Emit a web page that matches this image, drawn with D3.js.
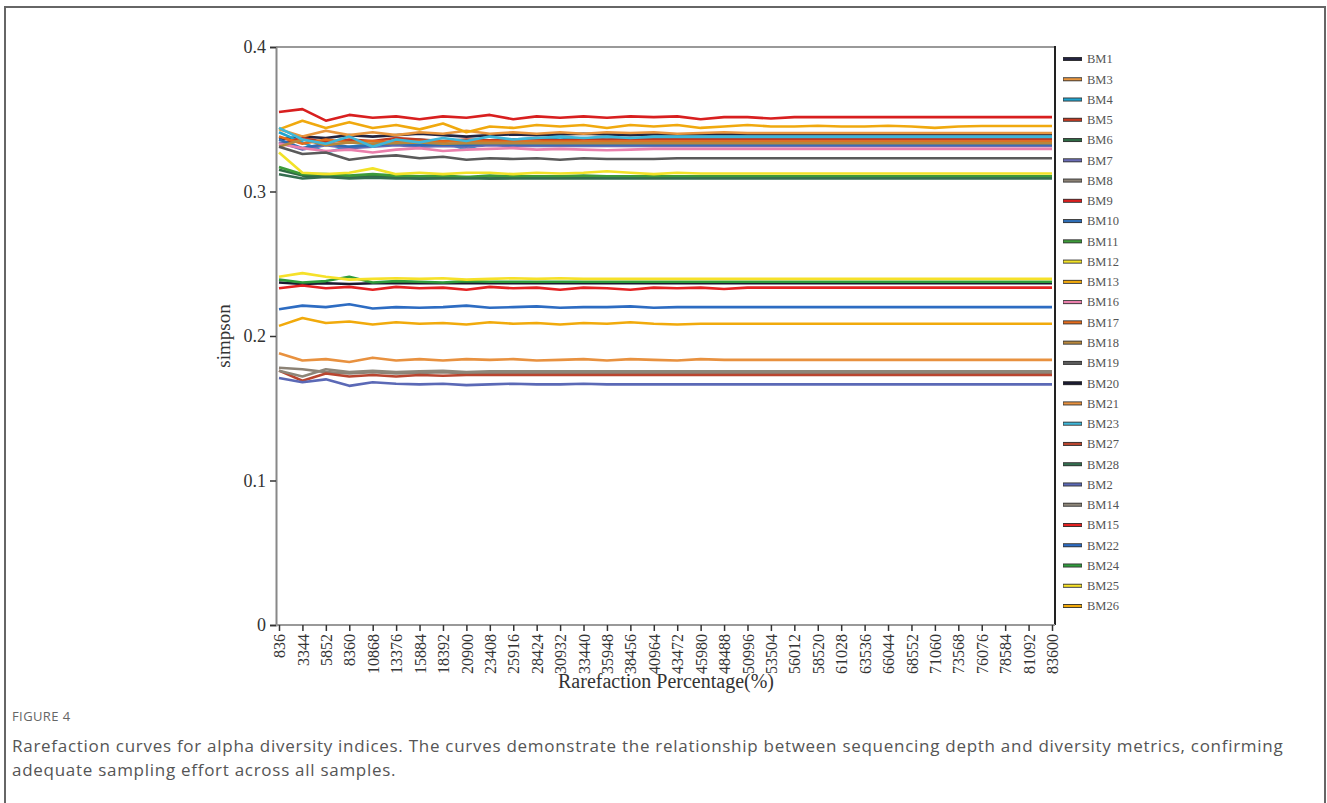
<!DOCTYPE html>
<html>
<head>
<meta charset="utf-8">
<script src="https://cdn.jsdelivr.net/npm/d3@7"></script>
<style>
  html, body { margin: 0; padding: 0; background: #fff; }
  svg { display: block; }
</style>
</head>
<body>
<svg id="chart" width="1327" height="803"></svg>
<script>
'use strict';

// x tick labels (rarefaction depth), one data point per tick
const depths = [836, 3344, 5852, 8360, 10868, 13376, 15884, 18392, 20900, 23408, 25916, 28424,
	30932, 33440, 35948, 38456, 40964, 43472, 45980, 48488, 50996, 53504, 56012, 58520,
	61028, 63536, 66044, 68552, 71060, 73568, 76076, 78584, 81092, 83600];

const yTicks = [0, 0.1, 0.2, 0.3, 0.4];

// legend order
const sampleNames = ['BM1', 'BM3', 'BM4', 'BM5', 'BM6', 'BM7', 'BM8', 'BM9', 'BM10', 'BM11', 'BM12',
	'BM13', 'BM16', 'BM17', 'BM18', 'BM19', 'BM20', 'BM21', 'BM23', 'BM27', 'BM28', 'BM2', 'BM14',
	'BM15', 'BM22', 'BM24', 'BM25', 'BM26'];

const sampleColors = ['#23233f', '#e8963e', '#1fa3cf', '#c23a22', '#2f6a45', '#6a6cb5', '#8c8275',
	'#d81f1f', '#2e6db5', '#3d9b3a', '#f2e228', '#f0a90e', '#ea7fac', '#e46c1c', '#b8873c', '#5a5a5a',
	'#1a1a30', '#e8913f', '#3fb7d9', '#b9452f', '#346e50', '#5b69b6', '#8d8679', '#e42222', '#2d6cc2',
	'#2f9c3c', '#f6e12a', '#f1aa0c'];

// simpson values
const BM1  = [.336,.338,.337,.339,.338,.339,.340,.339,.338,.339,.3395,.339,.3395,.340,.3395,.339,.3395,.3395,.3395,.3395,.3395,.3395,.3395,.3395,.3395,.3395,.3395,.3395,.3395,.3395,.3395,.3395,.3395,.3395];
const BM3  = [.343,.338,.342,.339,.341,.339,.341,.340,.342,.340,.341,.340,.341,.340,.341,.3405,.341,.340,.3405,.341,.3405,.3405,.3405,.3405,.3405,.3405,.3405,.3405,.3405,.3405,.3405,.3405,.3405,.3405];
const BM4  = [.341,.334,.327,.331,.333,.335,.336,.334,.329,.335,.336,.337,.336,.337,.336,.337,.3365,.337,.337,.337,.337,.337,.337,.337,.337,.337,.337,.337,.337,.337,.337,.337,.337,.337];
const BM5  = [.333,.337,.334,.336,.335,.337,.336,.335,.336,.3355,.336,.336,.3355,.336,.336,.336,.336,.336,.336,.336,.336,.336,.336,.336,.336,.336,.336,.336,.336,.336,.336,.336,.336,.336];
const BM6  = [.315,.311,.3105,.310,.311,.310,.309,.3095,.310,.309,.3095,.3095,.3095,.3095,.3095,.3095,.3095,.3095,.3095,.3095,.3095,.3095,.3095,.3095,.3095,.3095,.3095,.3095,.3095,.3095,.3095,.3095,.3095,.3095];
const BM7  = [.334,.329,.332,.330,.331,.332,.331,.3315,.331,.332,.3315,.3315,.3315,.3315,.3315,.3315,.3315,.3315,.3315,.3315,.3315,.3315,.3315,.3315,.3315,.3315,.3315,.3315,.3315,.3315,.3315,.3315,.3315,.3315];
const BM8  = [.178,.177,.175,.174,.175,.174,.1745,.175,.174,.1745,.1745,.1745,.1745,.1745,.1745,.1745,.1745,.1745,.1745,.1745,.1745,.1745,.1745,.1745,.1745,.1745,.1745,.1745,.1745,.1745,.1745,.1745,.1745,.1745];
const BM9  = [.355,.357,.349,.353,.351,.352,.350,.352,.351,.353,.350,.352,.351,.352,.351,.352,.3515,.352,.350,.3515,.3515,.3505,.3515,.3515,.3515,.3515,.3515,.3515,.3515,.3515,.3515,.3515,.3515,.3515];
const BM10 = [.336,.330,.333,.331,.332,.333,.332,.3325,.332,.333,.3325,.3325,.3325,.3325,.3325,.3325,.3325,.3325,.3325,.3325,.3325,.3325,.3325,.3325,.3325,.3325,.3325,.3325,.3325,.3325,.3325,.3325,.3325,.3325];
const BM11 = [.317,.312,.312,.311,.312,.311,.3105,.311,.310,.311,.3105,.3105,.3105,.311,.3105,.3105,.3105,.3105,.3105,.3105,.3105,.3105,.3105,.3105,.3105,.3105,.3105,.3105,.3105,.3105,.3105,.3105,.3105,.3105];
const BM12 = [.327,.313,.312,.313,.316,.312,.313,.312,.313,.313,.312,.313,.3125,.313,.314,.313,.312,.313,.3125,.3125,.3125,.3125,.3125,.3125,.3125,.3125,.3125,.3125,.3125,.3125,.3125,.3125,.3125,.3125];
const BM13 = [.343,.349,.344,.348,.344,.346,.343,.347,.341,.345,.344,.346,.345,.346,.344,.346,.345,.346,.344,.345,.346,.345,.345,.3455,.345,.345,.3455,.345,.344,.345,.3453,.3453,.3453,.3453];
const BM16 = [.333,.330,.328,.329,.327,.329,.330,.328,.329,.3295,.330,.329,.3295,.329,.3285,.329,.3295,.3295,.3295,.3295,.3295,.3295,.3295,.3295,.3295,.3295,.3295,.3295,.3295,.3295,.3295,.3295,.3295,.3295];
const BM17 = [.338,.333,.336,.334,.335,.334,.335,.3345,.335,.3345,.3345,.3345,.3345,.3345,.3345,.3345,.3345,.3345,.3345,.3345,.3345,.3345,.3345,.3345,.3345,.3345,.3345,.3345,.3345,.3345,.3345,.3345,.3345,.3345];
const BM18 = [.331,.336,.332,.334,.333,.3335,.334,.333,.3335,.3335,.3335,.3335,.3335,.3335,.3335,.3335,.3335,.3335,.3335,.3335,.3335,.3335,.3335,.3335,.3335,.3335,.3335,.3335,.3335,.3335,.3335,.3335,.3335,.3335];
const BM19 = [.331,.326,.327,.322,.324,.325,.323,.324,.322,.323,.3225,.323,.322,.323,.3225,.3225,.3225,.323,.323,.323,.323,.323,.323,.323,.323,.323,.323,.323,.323,.323,.323,.323,.323,.323];
const BM20 = [.237,.236,.2365,.236,.2365,.2365,.2365,.2365,.2365,.2365,.2365,.2365,.2365,.2365,.2365,.2365,.2365,.2365,.2365,.2365,.2365,.2365,.2365,.2365,.2365,.2365,.2365,.2365,.2365,.2365,.2365,.2365,.2365,.2365];
const BM21 = [.188,.183,.184,.182,.185,.183,.184,.183,.184,.1835,.184,.183,.1835,.184,.183,.184,.1835,.183,.184,.1835,.1835,.1835,.1835,.1835,.1835,.1835,.1835,.1835,.1835,.1835,.1835,.1835,.1835,.1835];
const BM23 = [.344,.336,.333,.338,.331,.336,.334,.337,.335,.338,.336,.337,.338,.337,.338,.337,.338,.338,.338,.338,.338,.338,.338,.338,.338,.338,.338,.338,.338,.338,.338,.338,.338,.338];
const BM27 = [.176,.169,.174,.172,.173,.172,.173,.1725,.173,.173,.173,.173,.173,.173,.173,.173,.173,.173,.173,.173,.173,.173,.173,.173,.173,.173,.173,.173,.173,.173,.173,.173,.173,.173];
const BM28 = [.312,.309,.310,.309,.3095,.309,.309,.309,.309,.309,.309,.309,.309,.309,.309,.309,.309,.309,.309,.309,.309,.309,.309,.309,.309,.309,.309,.309,.309,.309,.309,.309,.309,.309];
const BM2  = [.171,.168,.170,.1655,.168,.167,.1665,.167,.166,.1665,.167,.1665,.1665,.167,.1665,.1665,.1665,.1665,.1665,.1665,.1665,.1665,.1665,.1665,.1665,.1665,.1665,.1665,.1665,.1665,.1665,.1665,.1665,.1665];
const BM14 = [.176,.172,.177,.175,.176,.175,.1755,.176,.175,.1755,.1755,.1755,.1755,.1755,.1755,.1755,.1755,.1755,.1755,.1755,.1755,.1755,.1755,.1755,.1755,.1755,.1755,.1755,.1755,.1755,.1755,.1755,.1755,.1755];
const BM15 = [.233,.235,.233,.234,.232,.234,.233,.2335,.232,.234,.233,.2335,.232,.2335,.233,.232,.2335,.233,.2335,.2325,.2335,.2335,.2335,.2335,.2335,.2335,.2335,.2335,.2335,.2335,.2335,.2335,.2335,.2335];
const BM22 = [.2185,.221,.220,.222,.219,.220,.2195,.220,.221,.2195,.220,.2205,.2195,.220,.220,.2205,.2195,.220,.220,.220,.220,.220,.220,.220,.220,.220,.220,.220,.220,.220,.220,.220,.220,.220];
const BM24 = [.239,.237,.238,.241,.237,.238,.2375,.237,.238,.2375,.2375,.2375,.2375,.2375,.2375,.2375,.2375,.2375,.2375,.2375,.2375,.2375,.2375,.2375,.2375,.2375,.2375,.2375,.2375,.2375,.2375,.2375,.2375,.2375];
const BM25 = [.241,.2435,.241,.239,.2395,.240,.2395,.240,.239,.2395,.240,.2395,.240,.2395,.2395,.2395,.2395,.2395,.2395,.2395,.2395,.2395,.2395,.2395,.2395,.2395,.2395,.2395,.2395,.2395,.2395,.2395,.2395,.2395];
const BM26 = [.207,.2125,.209,.210,.208,.2095,.2085,.209,.208,.2095,.2085,.209,.208,.209,.2085,.2095,.2085,.208,.2085,.2085,.2085,.2085,.2085,.2085,.2085,.2085,.2085,.2085,.2085,.2085,.2085,.2085,.2085,.2085];

const sampleValues = [BM1, BM3, BM4, BM5, BM6, BM7, BM8, BM9, BM10, BM11, BM12, BM13, BM16, BM17,
	BM18, BM19, BM20, BM21, BM23, BM27, BM28, BM2, BM14, BM15, BM22, BM24, BM25, BM26];

const captionTitle = 'FIGURE 4';
const captionLines = [
	'Rarefaction curves for alpha diversity indices. The curves demonstrate the relationship between sequencing depth and diversity metrics, confirming',
	'adequate sampling effort across all samples.'
];

const svg = d3.select('#chart');
const serif = '"Liberation Serif", "DejaVu Serif", serif';
const sans = '"Open Sans", "Noto Sans", sans-serif';

// - outer frame (open at the bottom)
svg.append('path')
	.attr('d', 'M5,820 V7 H1325 V820')
	.attr('fill', 'none')
	.attr('stroke', '#666')
	.attr('stroke-width', 2);

const plot = { left: 276, right: 1055, top: 47, bottom: 625 };

const x = d3.scaleLinear()
	.domain([depths[0], depths[depths.length - 1]])
	.range([279, 1052]);

const y = d3.scaleLinear()
	.domain([0, 0.4])
	.range([plot.bottom, plot.top]);

// - box lines
svg.append('line')
	.attr('x1', plot.left).attr('x2', plot.right)
	.attr('y1', plot.top).attr('y2', plot.top)
	.attr('stroke', '#999').attr('stroke-width', 2);
svg.append('line')
	.attr('x1', plot.right).attr('x2', plot.right)
	.attr('y1', plot.top - 1).attr('y2', plot.bottom)
	.attr('stroke', '#222').attr('stroke-width', 2);

// - lines
const line = d3.line()
	.x((d, i) => x(depths[i]))
	.y(d => y(d));

svg.append('g')
	.selectAll('path')
	.data(sampleValues)
	.join('path')
		.attr('d', line)
		.attr('fill', 'none')
		.attr('stroke', (d, i) => sampleColors[i])
		.attr('stroke-width', 2.6)
		.attr('stroke-linejoin', 'round');

// - y axis
const yAxis = svg.append('g')
	.attr('transform', `translate(${plot.left},0)`)
	.call(d3.axisLeft(y)
		.tickValues(yTicks)
		.tickSize(6)
		.tickPadding(4)
		.tickFormat(d => d === 0 ? '0' : d3.format('.1f')(d)));
yAxis.select('.domain').attr('stroke', '#888').attr('stroke-width', 2);
yAxis.selectAll('.tick line').attr('stroke', '#333').attr('stroke-width', 1.5);
yAxis.selectAll('.tick text')
	.attr('font-family', serif)
	.attr('font-size', 18)
	.attr('fill', '#333');

// - x axis
const xAxis = svg.append('g')
	.attr('transform', `translate(0,${plot.bottom})`)
	.call(d3.axisBottom(x)
		.tickValues(depths)
		.tickSize(6)
		.tickSizeOuter(0)
		.tickFormat(d => String(d)));
xAxis.select('.domain')
	.attr('d', `M${plot.left},0H${plot.right}`)
	.attr('stroke', '#999').attr('stroke-width', 2);
xAxis.selectAll('.tick line').attr('stroke', '#333').attr('stroke-width', 1.5);
xAxis.selectAll('.tick text')
	.attr('font-family', serif)
	.attr('font-size', 16)
	.attr('fill', '#333')
	.attr('text-anchor', 'end')
	.attr('transform', 'rotate(-90)')
	.attr('x', -9)
	.attr('y', 0)
	.attr('dy', '0.35em');

// - axis titles
svg.append('text')
	.attr('transform', 'translate(230,336) rotate(-90)')
	.attr('text-anchor', 'middle')
	.attr('font-family', serif)
	.attr('font-size', 19)
	.attr('fill', '#333')
	.text('simpson');

svg.append('text')
	.attr('x', 666)
	.attr('y', 688)
	.attr('text-anchor', 'middle')
	.attr('font-family', serif)
	.attr('font-size', 20)
	.attr('fill', '#333')
	.text('Rarefaction Percentage(%)');

// - legend
const legend = svg.append('g')
	.selectAll('g')
	.data(sampleNames)
	.join('g')
		.attr('transform', (d, i) => `translate(1063,${59 + i * 20.26})`);

legend.append('line')
	.attr('x1', 0).attr('x2', 19)
	.attr('stroke', '#333')
	.attr('stroke-width', 4);
legend.append('line')
	.attr('x1', 0.5).attr('x2', 18.5)
	.attr('stroke', (d, i) => sampleColors[i])
	.attr('stroke-width', 2.2);
legend.append('text')
	.attr('x', 24)
	.attr('dy', '0.35em')
	.attr('font-family', serif)
	.attr('font-size', 12.5)
	.attr('fill', '#555')
	.text(d => d);

// - caption
svg.append('text')
	.attr('x', 12)
	.attr('y', 721)
	.attr('font-family', sans)
	.attr('font-size', 13)
	.attr('letter-spacing', 0.4)
	.attr('fill', '#666')
	.text(captionTitle);

svg.append('g')
	.selectAll('text')
	.data(captionLines)
	.join('text')
		.attr('x', 12)
		.attr('y', (d, i) => 752 + i * 24)
		.attr('font-family', sans)
		.attr('font-size', 17)
		.attr('letter-spacing', 0.72)
		.attr('fill', '#555')
		.text(d => d);
</script>
</body>
</html>
